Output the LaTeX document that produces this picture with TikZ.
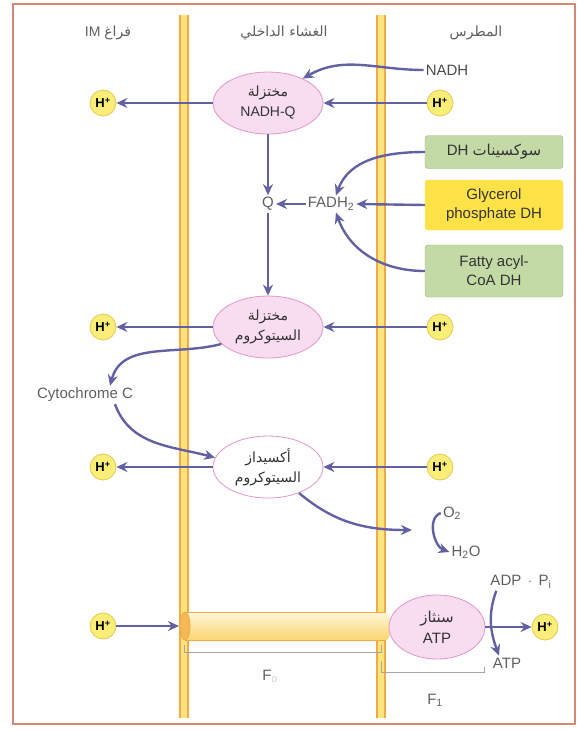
\documentclass[tikz,border=0pt]{standalone}
\usepackage{fontspec}
\setmainfont{Liberation Sans}
\newfontfamily\arabicfont[Script=Arabic]{DejaVu Sans}
\TeXXeTstate=1
\usetikzlibrary{arrows.meta, shapes.geometric}

\definecolor{flowblue}{RGB}{98,98,162}
\definecolor{membedge}{RGB}{240,170,70}
\definecolor{membcore}{RGB}{255,228,125}
\definecolor{pinkfill}{RGB}{248,220,240}
\definecolor{pinkdraw}{RGB}{226,150,200}
\definecolor{hfill}{RGB}{250,238,120}
\definecolor{hdraw}{RGB}{226,202,84}
\definecolor{greenfill}{RGB}{196,218,166}
\definecolor{greendraw}{RGB}{150,180,120}
\definecolor{yellowbox}{RGB}{255,226,72}
\definecolor{framered}{RGB}{214,136,118}
\definecolor{labelgray}{RGB}{95,95,95}

% one line of Arabic text
\newcommand{\artext}[1]{{\arabicfont\beginR #1\endR}}

\begin{document}
\begin{tikzpicture}[
    x=1pt, y=-1pt,
    complex/.style={
        ellipse,
        draw=pinkdraw,
        fill=pinkfill,
        line width=0.8pt,
        minimum width=110pt,
        minimum height=62pt,
        inner sep=0pt,
        align=center,
        text=black!80,
        font=\fontsize{14}{20}\selectfont
    },
    proton/.style={
        circle,
        draw=hdraw,
        fill=hfill,
        line width=0.8pt,
        minimum size=26pt,
        inner sep=0pt,
        font=\bfseries\fontsize{13}{13}\selectfont
    },
    dhbox/.style={
        draw=greendraw,
        fill=greenfill,
        rounded corners=3pt,
        minimum width=138pt,
        inner sep=2pt,
        align=center,
        text=black!80,
        font=\fontsize{15}{19}\selectfont
    },
    chem/.style={
        text=labelgray,
        inner sep=2pt,
        font=\fontsize{15}{15}\selectfont
    },
    zone/.style={
        text=labelgray,
        font=\fontsize{14}{14}\selectfont
    },
    flow/.style={
        -{Stealth[length=11pt,width=10pt]},
        line width=2.4pt,
        draw=flowblue
    },
    bracket/.style={
        draw=gray!70,
        line width=0.6pt
    }
]
\useasboundingbox (0,0) rectangle (582,731);
\draw[framered, line width=2pt] (13,4) rectangle (575,724);

% membranes
\foreach \mx in {184,381} {
    \fill[membcore] (\mx-5,15) rectangle (\mx+5,718);
    \draw[membedge, line width=1.6pt] (\mx-4.2,15) -- (\mx-4.2,718)
        (\mx+4.2,15) -- (\mx+4.2,718);
}

% Nodes
\node[zone] (ims) at (108,33) {\beginR{\arabicfont فراغ} \beginL IM\endL\endR};
\node[zone] (inner) at (284,33) {\artext{الغشاء الداخلي}};
\node[zone] (matrix) at (476,33) {\artext{المطرس}};

\node[complex] (nadhq) at (268,103) {\artext{مختزلة}\\NADH-Q};
\node[chem, text=black!70] (nadh) at (447,70) {NADH};
\node[proton] (hl1) at (103,103) {H\textsuperscript{+}};
\node[proton] (hr1) at (440,103) {H\textsuperscript{+}};

\node[chem] (q) at (268,204) {Q};
\node[chem] (fadh) at (331,204) {FADH\textsubscript{2}};
\node[dhbox, minimum height=33pt] (sdh) at (494,152)
    {\beginR{\arabicfont سوكسينات} \beginL DH\endL\endR};
\node[dhbox, fill=yellowbox, draw=yellowbox, minimum height=50pt] (gpdh) at (494,205)
    {Glycerol\\phosphate DH};
\node[dhbox, minimum height=52pt] (acyl) at (494,271) {Fatty acyl-\\CoA DH};

\node[complex] (cytred) at (268,327) {\artext{مختزلة}\\\artext{السيتوكروم}};
\node[proton] (hl2) at (103,327) {H\textsuperscript{+}};
\node[proton] (hr2) at (440,327) {H\textsuperscript{+}};
\node[chem] (cytc) at (85,395) {Cytochrome C};

\node[complex, fill=white] (cytox) at (268,467) {\artext{أكسيداز}\\\artext{السيتوكروم}};
\node[proton] (hl3) at (103,467) {H\textsuperscript{+}};
\node[proton] (hr3) at (440,467) {H\textsuperscript{+}};
\node[chem] (o2) at (452,513) {O\textsubscript{2}};
\node[chem] (h2o) at (466,552) {H\textsubscript{2}O};
\coordinate (redox) at (412,530);

% F0 channel through the membrane
\shade[top color=membcore!30!white, bottom color=membcore!75!membedge]
    (185,612) rectangle (386,640);
\shade[top color=membcore!30!white, bottom color=membcore!75!membedge]
    (386,626) ellipse [x radius=5, y radius=14];
\draw[membedge, line width=0.9pt] (185,612) -- (386,612) (185,640) -- (386,640);
\fill[membedge!75!membcore, draw=membedge, line width=0.8pt]
    (185,626) ellipse [x radius=5, y radius=14];
\coordinate (foin) at (179,626);

\node[complex, minimum width=96pt, minimum height=64pt, font=\fontsize{15}{21}\selectfont]
      (synth) at (437,627) {\artext{سنثاز}\\ATP};
\node[proton] (hl4) at (103,626) {H\textsuperscript{+}};
\node[proton] (hr4) at (545,627) {H\textsuperscript{+}};
\node[chem] (adp) at (521,582) {ADP \,$\cdot$\, P\textsubscript{i}};
\node[chem] (atp) at (507,663) {ATP};
\node[chem] (folab) at (270,676) {F\textsubscript{\color{gray!40}o}};
\node[chem] (f1lab) at (435,700) {F\textsubscript{1}};

% brackets under the synthase
\draw[bracket] (184,645) -- (184,652) -- (381,652) -- (381,645);
\draw[bracket] (381,661) -- (381,672) -- (484,672) -- (484,667);

% Paths
\draw[flow] (nadh.west) to[out=180, in=30] (nadhq.35);
\draw[flow] (nadhq.west) -- (hl1);
\draw[flow] (hr1) -- (nadhq.east);
\draw[flow] (nadhq.south) -- (q.north);
\draw[flow] (fadh.west) -- (q.east);
\draw[flow] (q.south) -- (cytred.north);
\draw[flow] (sdh.west) to[out=180, in=70] (fadh.60);
\draw[flow] (gpdh.west) -- (fadh.east);
\draw[flow] (acyl.west) to[out=180, in=-70] (fadh.-60);

\draw[flow] (cytred.west) -- (hl2);
\draw[flow] (hr2) -- (cytred.east);
\draw[flow] (cytred.200) to[out=195, in=75] ([xshift=25pt]cytc.north);
\draw[flow] ([xshift=30pt]cytc.south) to[out=-70, in=165] (cytox.170);

\draw[flow] (cytox.west) -- (hl3);
\draw[flow] (hr3) -- (cytox.east);
\draw[flow] (cytox.-40) to[out=-40, in=180] (redox);
\draw[flow] (o2.west) to[out=200, in=160] (h2o.west);

\draw[flow] (hl4) -- (foin);
\draw[flow] (synth.east) -- (hr4);
\draw[flow] ([xshift=8pt]adp.south west) to[out=-110, in=110] ([xshift=-8pt]atp.north);

\end{tikzpicture}
\end{document}
